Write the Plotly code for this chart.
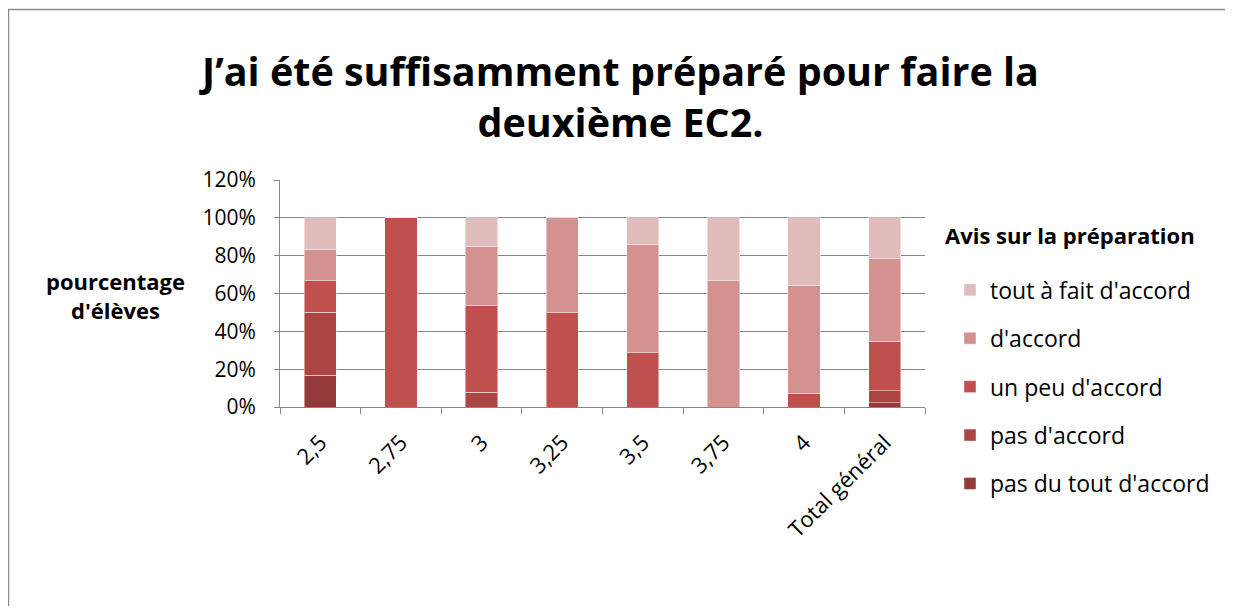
import plotly.graph_objects as go

categories = ["2,5", "2,75", "3", "3,25", "3,5", "3,75", "4", "Total général"]
pas_du_tout = [16.67, 0, 0, 0, 0, 0, 0, 2.17]
pas_accord = [33.33, 0, 7.69, 0, 0, 0, 0, 6.52]
un_peu = [16.67, 100, 46.15, 50, 28.57, 0, 7.14, 26.09]
accord = [16.67, 0, 30.77, 50, 57.14, 66.67, 57.14, 43.48]
tout_a_fait = [16.67, 0, 15.38, 0, 14.29, 33.33, 35.71, 21.74]

series = [
    ("pas du tout d'accord", pas_du_tout, "#933A38"),
    ("pas d'accord", pas_accord, "#AA4543"),
    ("un peu d'accord", un_peu, "#C0504D"),
    ("d'accord", accord, "#D39190"),
    ("tout à fait d'accord", tout_a_fait, "#E1BCBC"),
]

FONT = "Open Sans"
fig = go.Figure()
for i, (name, vals, col) in enumerate(series):
    fig.add_trace(go.Bar(
        x=categories, y=vals, name=name, legendgroup=str(i),
        legendrank=100 - i,
        marker=dict(color=col, line=dict(color="rgba(255,255,255,0.45)", width=1)),
    ))

# figure coordinates (page minus 8px body margin)
W, H = 1225, 598
L, R, T, B = 272, 917, 172, 399

def px_x(p):
    return (p - L) / (R - L)

def px_y(p):
    return (B - p) / (B - T)

fig.update_layout(
    width=W, height=H,
    barmode="stack", bargap=0.6,
    margin=dict(l=L, r=W - R, t=T, b=H - B, autoexpand=False),
    paper_bgcolor="white", plot_bgcolor="white",
    font=dict(family=FONT, color="black", size=21),
    title=dict(
        text="<b>J’ai été suffisamment préparé pour faire la<br>deuxième EC2.</b>",
        x=0.5, xanchor="center", y=1 - 78 / H, yanchor="middle",
        font=dict(family=FONT, size=39.5, color="black"),
    ),
    xaxis=dict(
        type="category", tickangle=-45, tickson="boundaries",
        ticks="outside", ticklen=6, tickcolor="#868686",
        showline=True, linecolor="#868686", linewidth=1,
        showgrid=False, tickfont=dict(size=22), ticklabelstandoff=13,
    ),
    yaxis=dict(
        range=[0, 120], dtick=20, ticksuffix="%",
        ticks="outside", ticklen=5, tickcolor="#868686",
        showline=True, linecolor="#868686", linewidth=1,
        showgrid=True, gridcolor="#868686", gridwidth=1,
        zeroline=False, tickfont=dict(size=21), ticklabelstandoff=14,
    ),
    legend=dict(
        x=px_x(935), y=px_y(211), xanchor="left", yanchor="top",
        traceorder="grouped", tracegroupgap=15.5, indentation=7,
        title=dict(
            text="<b><span style='font-size:22px'>Avis sur la préparation</span></b><br> ",
            font=dict(size=19),
        ),
        font=dict(size=23), bgcolor="rgba(0,0,0,0)", maxheight=500,
    ),
    showlegend=True,
)

fig.add_annotation(
    text="<b>pourcentage<br>d'élèves</b>", xref="paper", yref="paper",
    x=px_x(107), y=px_y(287), xanchor="center", yanchor="middle",
    showarrow=False, font=dict(size=22, family=FONT), align="center",
)

fig.add_shape(
    type="rect", xref="paper", yref="paper",
    x0=px_x(0.5), x1=px_x(1300), y0=px_y(700), y1=px_y(1.5),
    line=dict(color="#8C8C8C", width=1.5), fillcolor="rgba(0,0,0,0)", layer="below",
)

fig.write_html("out.html")
